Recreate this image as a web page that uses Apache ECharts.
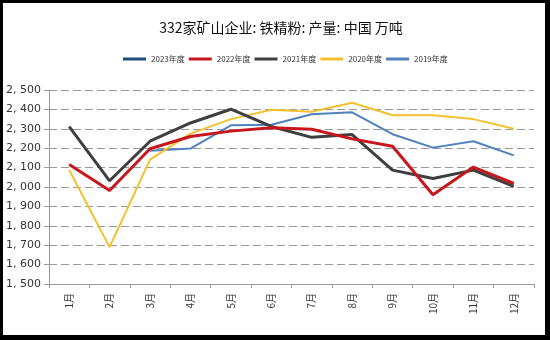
<!DOCTYPE html>
<html>
<head>
<meta charset="utf-8">
<script src="https://cdn.jsdelivr.net/npm/echarts@6/dist/echarts.min.js"></script>
<style>
html,body{margin:0;padding:0;background:#000;}
#wrap{position:absolute;left:0;top:0;width:550px;height:340px;background:#000;}
#chart{position:absolute;left:3px;top:3px;width:542px;height:332px;background:#fff;}
</style>
</head>
<body>
<div id="wrap"><div id="chart"></div></div>
<script>
var categories = ['1月','2月','3月','4月','5月','6月','7月','8月','9月','10月','11月','12月'];
var seriesNames = ['2023年度','2022年度','2021年度','2020年度','2019年度'];
var data2023 = [];
var data2022 = [2116, 1982, 2197, 2260, 2288, 2306, 2298, 2248, 2210, 1960, 2103, 2018];
var data2021 = [2311, 2032, 2236, 2330, 2401, 2312, 2256, 2270, 2087, 2044, 2087, 2003];
var data2020 = [2088, 1690, 2141, 2275, 2350, 2398, 2388, 2434, 2370, 2370, 2350, 2300];
var data2019 = [null, null, 2187, 2198, 2318, 2321, 2375, 2385, 2272, 2203, 2236, 2163];
var yTicks = {min: 1500, max: 2500, interval: 100};

var chart = echarts.init(document.getElementById('chart'), null, {renderer: 'canvas'});
var colors = ['#1F4E79', '#C8161D', '#3F3F3F', '#F2C12E', '#4F81BD'];
var widths = [3, 3, 3, 2, 2];
var allData = [data2023, data2022, data2021, data2020, data2019];
var series = seriesNames.map(function (n, i) {
  return {
    name: n, type: 'line', data: allData[i], symbol: 'none', connectNulls: false,
    lineStyle: {color: colors[i], width: widths[i]}, itemStyle: {color: colors[i]},
    z: 10 - i
  };
});
chart.setOption({
  animation: false,
  title: {
    text: '332家矿山企业: 铁精粉: 产量: 中国 万吨',
    left: 273, top: 13, textAlign: 'center',
    textStyle: {fontFamily: 'Noto Sans CJK SC', fontSize: 14, fontWeight: 'normal', color: '#111'}
  },
  legend: {
    data: seriesNames, left: 115, top: 47, itemWidth: 23, itemHeight: 3, icon: 'rect',
    itemGap: 4, textStyle: {fontFamily: 'Noto Sans CJK SC', fontSize: 8, color: '#333'}
  },
  grid: {left: 45, right: 11, top: 87, bottom: 51, containLabel: false},
  xAxis: {
    type: 'category', data: categories, boundaryGap: true,
    axisLine: {lineStyle: {color: '#999'}},
    axisTick: {show: true, length: 4, lineStyle: {color: '#999'}},
    axisLabel: {rotate: 90, fontSize: 10, color: '#333', fontFamily: 'Noto Sans CJK SC', margin: 9}
  },
  yAxis: {
    type: 'value', min: yTicks.min, max: yTicks.max, interval: yTicks.interval,
    axisLine: {show: true, lineStyle: {color: '#999'}},
    axisTick: {show: true, length: 5, lineStyle: {color: '#999'}},
    axisLabel: {
      fontSize: 11, color: '#333', margin: 8, fontFamily: 'DejaVu Sans',
      formatter: function (v) { return v.toLocaleString('en-US').replace(',', ', '); }
    },
    splitLine: {lineStyle: {color: '#999', type: [8, 4], width: 1.2}}
  },
  series: series
});
</script>
</body>
</html>
